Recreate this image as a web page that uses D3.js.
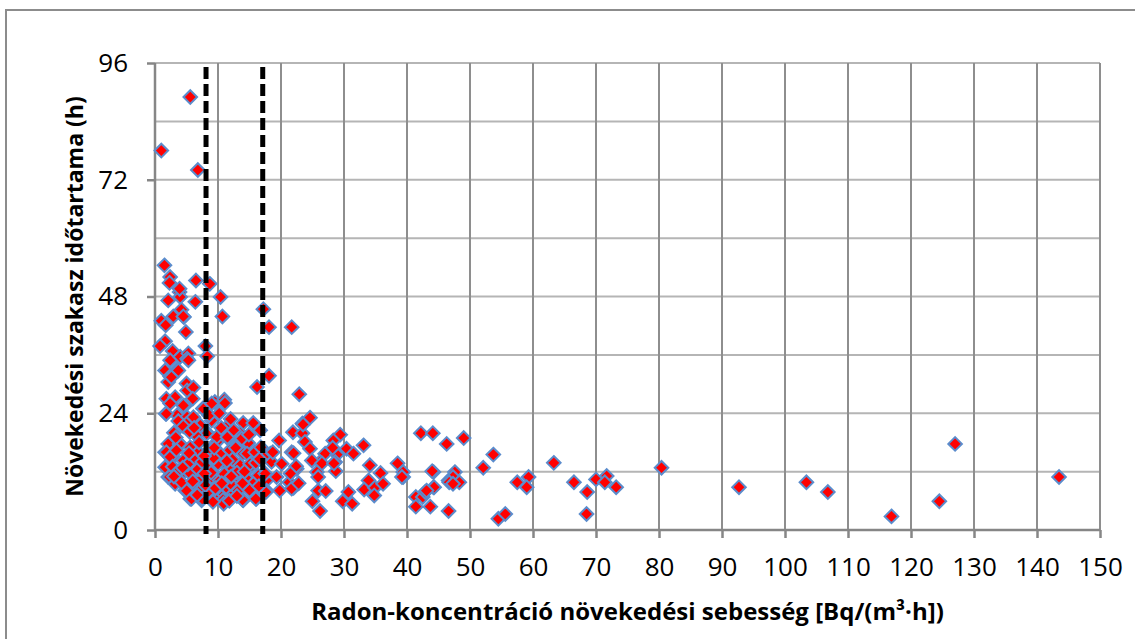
<!DOCTYPE html>
<html>
<head>
<meta charset="utf-8">
<script src="https://cdn.jsdelivr.net/npm/d3@7"></script>
<style>
  body { margin: 0; background: #fff; }
  svg { display: block; }
  .tick text { font-family: "Open Sans", sans-serif; fill: #000; }
</style>
</head>
<body>
<svg id="chart"></svg>
<script>
// axis ticks
var xTicks = d3.range(0, 151, 10);
var yTicks = [0, 24, 48, 72, 96];
var yGrid = d3.range(0, 97, 12);
// dashed threshold lines (rate)
var thresholds = [8.1, 17.1];

// [rate, duration] pairs
var outliers = [[1.0,78],[5.6,89],[6.8,74]];
var upperPoints = [
  [1.5,54.4],[2.4,52],[2.3,50.8],[6.5,51.3],[8.7,50.6],[3.9,48.9],[4.0,47.9],[2.1,47.2],[6.4,46.9],[10.4,47.9],
  [2.9,43.9],[4.6,43.8],[4.2,45.3],[1.0,43.0],[1.7,42.1],[10.7,43.9],[4.9,40.7],[17.2,45.4],[18.1,41.7],[21.7,41.7],
  [1.6,38.8],[0.8,37.8],[8.0,37.8],[8.3,35.7],[2.8,36.8],[2.4,34.9],[4.0,35.6],[5.3,36.3],[5.1,35.2],[1.6,32.8],
  [2.4,31.6],[3.5,33.0],[2.1,30.4],[18.1,31.7],[16.2,29.4],[22.9,27.9],[5.0,30.1],[5.1,28.7],[6.1,29.3],[1.8,27.0],
  [3.2,27.3],[6.0,27.0],[9.5,26.3],[11.0,26.8],[2.4,26.0],[4.8,25.6],[7.6,25.0],[1.7,23.9],[3.5,23.6],[5.1,23.2],
  [3.7,32.8],[2.6,31.4],[5.3,34.9],[4.5,43.9],[3.9,49.6]
];
var clusterPoints = [
  [4.5,25.6],[7.7,24.9],[9.0,26.0],[11.1,26.1],[1.8,23.9],[3.7,22.4],[6.1,23.2],[5.0,21.8],[4.5,21.3],[14.0,22.0],
  [15.6,22.0],[16.7,20.5],[8.2,20.1],[10.3,19.4],[11.6,18.8],[9.8,18.1],[13.5,19.9],[13.2,17.7],[14.8,17.9],[2.4,17.9],
  [4.0,17.7],[5.6,17.0],[6.9,16.0],[8.7,16.4],[10.3,15.7],[11.9,16.4],[14.0,15.7],[15.9,15.3],[1.6,16.0],[2.9,15.0],
  [4.5,14.3],[6.1,14.6],[8.2,12.9],[10.0,13.6],[11.6,12.9],[13.5,13.3],[15.1,12.9],[18.3,15.7],[18.5,14.0],[2.1,10.9],
  [4.0,11.2],[5.6,11.6],[7.1,10.5],[9.0,10.9],[10.3,10.2],[12.7,10.2],[14.6,10.5],[16.4,11.2],[17.7,10.2],[4.8,8.1],
  [6.3,8.5],[8.7,7.8],[10.6,6.8],[12.2,7.8],[14.0,6.1],[16.1,6.4],[17.7,8.1],[5.6,6.4],[7.4,6.1],[2.1,17.7],
  [1.6,12.9],[2.3,10.9],[1.8,16.0],[2.4,15.0],[3.9,17.7],[5.0,8.1],[5.8,6.4],[7.1,8.1],[7.5,6.4],[9.5,6.4],
  [10.8,6.2],[10.9,5.4],[13.9,6.2],[16.0,6.4],[17.6,7.8],[8.2,19.8],[9.8,19.1],[11.4,21.2],[11.5,19.1],[13.8,18.8],
  [14.6,15.7],[15.9,16.0],[17.2,15.0],[17.5,11.6],[15.1,13.6],[15.6,9.5],[13.2,8.1],[3.0,20.0],[3.3,19.0],[6.5,19.5],
  [7.2,21.5],[5.5,20.2],[7.0,18.0],[9.0,22.5],[10.5,21.0],[12.5,20.5],[12.0,22.8],[2.8,13.0],[3.6,12.0],[5.2,13.5],
  [6.8,12.5],[7.5,14.0],[9.3,14.8],[11.0,11.5],[12.3,14.5],[13.0,11.8],[14.2,12.0],[16.0,13.8],[16.8,17.0],[3.2,9.5],
  [4.2,9.8],[6.0,10.0],[8.0,9.2],[9.6,8.6],[11.3,8.8],[12.0,9.5],[15.0,8.2],[16.5,9.0],[6.7,7.2],[9.2,5.8],
  [11.8,6.0],[13.0,7.0],[6.2,21.0],[8.6,23.6],[10.2,24.0],[12.8,16.9],[9.4,16.9],[7.8,15.2],[5.4,15.8],[3.4,16.4],
  [3.0,11.0],[4.4,12.8],[8.9,11.8],[10.6,9.6],[12.1,11.0],[13.9,9.6],[14.9,19.6],[16.6,14.6],[7.8,11.6],[11.4,14.2]
];
var tailPoints = [
  [23.4,21.9],[24.6,23.1],[21.9,20.1],[23.4,19.9],[23.5,21.7],[29.4,19.6],[28.3,18.4],[42.2,19.9],[44.1,19.9],[46.3,17.7],
  [33.1,17.4],[30.4,16.7],[31.5,15.7],[23.8,18.1],[19.7,18.4],[24.6,16.7],[27.0,15.7],[28.9,15.5],[21.7,16.0],[18.7,16.0],
  [20.1,13.6],[22.5,12.6],[26.2,14.0],[28.6,14.0],[25.7,11.9],[25.9,10.9],[28.7,12.1],[34.1,13.3],[35.8,11.7],[38.5,13.7],
  [39.4,10.9],[44.2,11.9],[46.6,10.2],[19.3,10.9],[21.3,9.8],[22.0,8.7],[19.8,8.1],[21.7,8.5],[33.9,10.2],[33.2,8.3],
  [34.9,8.7],[36.2,9.5],[34.8,7.1],[30.7,7.8],[29.8,5.9],[31.3,5.4],[25.0,5.9],[25.9,8.1],[27.1,8.0],[26.2,3.9],
  [41.4,6.8],[42.5,6.8],[41.4,4.8],[43.7,4.8],[42.9,7.8],[44.2,8.8],[46.6,3.9],[22.0,15.8],[22.4,13.1],[28.2,16.9],
  [24.9,14.3],[26.5,13.7],[28.4,13.7],[21.5,11.6],[22.8,9.6],[39.4,11.9],[49.0,18.9],[53.7,15.5],[52.1,12.8],[63.3,13.8],
  [80.4,12.8],[44.0,12.1],[47.6,11.9],[47.3,10.9],[48.3,9.8],[46.7,9.8],[47.3,9.5],[39.2,10.9],[44.3,8.8],[43.1,8.1],
  [57.5,9.8],[59.3,10.9],[59.0,8.8],[54.5,2.3],[55.6,3.3],[66.5,9.8],[68.6,7.8],[68.5,3.3],[70.0,10.4],[71.7,11.1],
  [71.4,9.8],[73.2,8.8],[92.7,8.8],[103.4,9.8],[106.8,7.8],[116.9,2.8],[124.5,5.9],[127.0,17.7],[143.5,10.9]
];

var width = 1135, height = 639;
var margin = {top: 63, right: 35, bottom: 109, left: 155};

var svg = d3.select("#chart").attr("width", width).attr("height", height);

// outer frame (runs off the right and bottom edges)
svg.append("rect")
  .attr("x", 6).attr("y", 10)
  .attr("width", width + 20).attr("height", height + 20)
  .attr("fill", "#fff")
  .attr("stroke", "#8c8c8c").attr("stroke-width", 2);

var x = d3.scaleLinear().domain([0, 150]).range([margin.left, width - margin.right]);
var y = d3.scaleLinear().domain([0, 96]).range([height - margin.bottom, margin.top]);

// gridlines
svg.append("g").selectAll("line").data(yGrid).join("line")
  .attr("x1", x(0)).attr("x2", x(150))
  .attr("y1", d => y(d)).attr("y2", d => y(d))
  .attr("stroke", "#b5b5b5").attr("stroke-width", 2);
svg.append("g").selectAll("line").data(xTicks.slice(1)).join("line")
  .attr("x1", d => x(d)).attr("x2", d => x(d))
  .attr("y1", y(0)).attr("y2", y(96))
  .attr("stroke", "#8e8e8e").attr("stroke-width", 2);

// axes
var xAxis = svg.append("g")
  .attr("transform", "translate(0," + y(0) + ")")
  .call(d3.axisBottom(x).tickValues(xTicks).tickSize(8).tickPadding(20).tickFormat(d3.format("d")));
var yAxis = svg.append("g")
  .attr("transform", "translate(" + x(0) + ",0)")
  .call(d3.axisLeft(y).tickValues(yTicks).tickSize(8).tickPadding(19).tickFormat(d3.format("d")));
[xAxis, yAxis].forEach(function(a) {
  a.select(".domain").attr("stroke", "#868686").attr("stroke-width", 2.5);
  a.selectAll(".tick line").attr("stroke", "#868686").attr("stroke-width", 2.5);
  a.selectAll(".tick text").style("font-size", "26px");
});
xAxis.select(".domain").attr("d", "M" + x(0) + ",0H" + x(150));
yAxis.select(".domain").attr("d", "M0," + y(0) + "V" + y(96));

// points
var allPoints = outliers.concat(upperPoints, clusterPoints, tailPoints);
var r = 6.8;
svg.append("g").selectAll("path").data(allPoints).join("path")
  .attr("transform", d => "translate(" + x(d[0]) + "," + y(d[1]) + ")")
  .attr("d", "M0," + (-r) + "L" + r + ",0L0," + r + "L" + (-r) + ",0Z")
  .attr("fill", "#ff0000")
  .attr("stroke", "#5b8ccc")
  .attr("stroke-width", 2);

// dashed thresholds
svg.append("g").selectAll("line").data(thresholds).join("line")
  .attr("x1", d => x(d)).attr("x2", d => x(d))
  .attr("y1", y(96) + 4).attr("y2", y(0) + 4)
  .attr("stroke", "#000").attr("stroke-width", 5)
  .attr("stroke-dasharray", "12,5");

// axis titles
svg.append("text")
  .attr("x", (x(0) + x(150)) / 2).attr("y", 620)
  .attr("text-anchor", "middle")
  .attr("font-family", "Open Sans, sans-serif").attr("font-weight", "bold")
  .attr("font-size", "24px").attr("fill", "#000")
  .text("Radon-koncentráció növekedési sebesség [Bq/(m³·h])");

svg.append("text")
  .attr("transform", "translate(83," + (y(0) + y(96)) / 2 + ") rotate(-90)")
  .attr("text-anchor", "middle")
  .attr("font-family", "Open Sans, sans-serif").attr("font-weight", "bold")
  .attr("font-size", "23px").attr("fill", "#000")
  .text("Növekedési szakasz időtartama (h)");
</script>
</body>
</html>
